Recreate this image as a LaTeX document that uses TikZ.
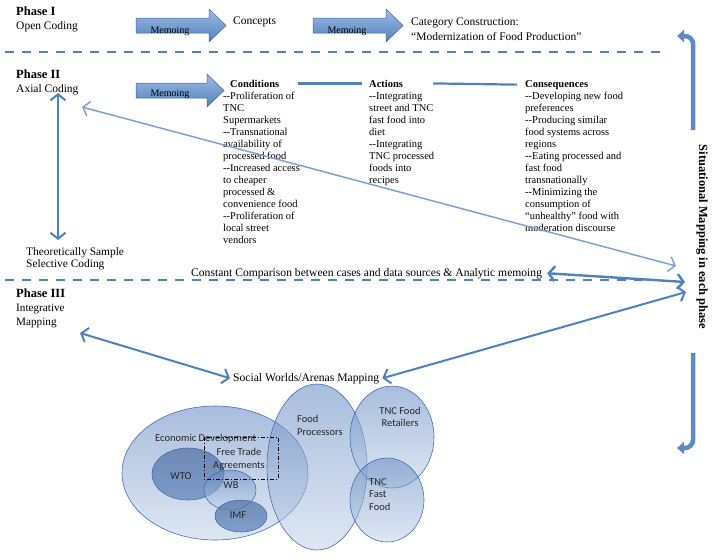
\documentclass[tikz,border=0pt]{standalone}
\usepackage{fontspec}
\setmainfont{Liberation Serif}
\newfontfamily\calfont{Carlito}
\usetikzlibrary{arrows.meta}
\definecolor{mblue}{RGB}{79,129,189}
\definecolor{dblue}{RGB}{60,100,160}
\definecolor{lblue}{RGB}{160,188,228}
\definecolor{pblue}{RGB}{125,162,210}
\definecolor{ebord}{RGB}{70,110,170}
\definecolor{etop}{RGB}{98,135,192}
\definecolor{ebot}{RGB}{195,211,234}
\definecolor{barblue}{RGB}{92,138,198}
\tikzset{
 phaselabel/.style={font=\bfseries\fontsize{12.5}{14}\selectfont, anchor=base west, inner sep=0pt},
 lab/.style={font=\fontsize{11.5}{13}\selectfont, anchor=base west, inner sep=0pt},
 colhead/.style={font=\bfseries\fontsize{10.5}{12}\selectfont, anchor=base west, inner sep=0pt},
 colbody/.style={font=\fontsize{10.5}{12}\selectfont, anchor=north west, inner sep=0pt, align=left},
 memo/.style={font=\fontsize{10}{12}\selectfont, inner sep=0pt},
 blockarrow/.style={draw=dblue, line width=0.5pt, top color=lblue, bottom color=mblue},
 sepline/.style={draw=mblue, line width=2.6pt, dash pattern=on 8.5pt off 8.5pt},
 colline/.style={draw=mblue, line width=2.2pt},
 dbl/.style={draw=mblue, line width=2pt, {Straight Barb[length=6pt,width=15pt]}-{Straight Barb[length=6pt,width=15pt]}},
 dotdbl/.style={draw=pblue, line width=1.5pt, {Straight Barb[length=6pt,width=15pt]}-{Straight Barb[length=6pt,width=15pt]}},
 ellblue/.style={draw=ebord, line width=0.6pt, top color=etop, bottom color=ebot, fill opacity=0.55},
 elldark/.style={draw=ebord, line width=0.6pt, top color=etop!85!black, bottom color=etop, fill opacity=0.75},
 etext/.style={font=\calfont\fontsize{10.5}{12.5}\selectfont, inner sep=0pt, text=black!85},
 bendarrow/.style={draw=barblue, line width=4.5pt, rounded corners=8pt, -{Triangle[length=7pt,width=12pt]}},
}
\begin{document}
\begin{tikzpicture}[x=1pt,y=-1pt]
\useasboundingbox (0,0) rectangle (714,558);

% separators
\coordinate (s1a) at (5,52); \coordinate (s1b) at (662,52);
\coordinate (s2a) at (5,280); \coordinate (s2b) at (662,280);
\draw[sepline] (s1a) -- (s1b);
\draw[sepline] (s2a) -- (s2b);

% Phase I
\node[phaselabel] (p1) at (16,15.5) {Phase I};
\node[lab] (oc) at (16,29.5) {Open Coding};
\path[blockarrow] (136,18) -- (209,18) -- (209,9) -- (226,25.5) -- (209,42) -- (209,33) -- (136,33) -- cycle;
\node[memo] (m1) at (170,31) {Memoing};
\node[lab] (concepts) at (233,24) {Concepts};
\path[blockarrow] (313,18) -- (386,18) -- (386,9) -- (403,25.5) -- (386,42) -- (386,33) -- (313,33) -- cycle;
\node[memo] (m2) at (347,31) {Memoing};
\node[lab] (cat1) at (411,25) {Category Construction:};
\node[lab] (cat2) at (411,40) {“Modernization of Food Production”};

% Phase II
\node[phaselabel] (p2) at (16,78) {Phase II};
\node[lab] (ax) at (16,92) {Axial Coding};
\path[blockarrow] (136,83) -- (207,83) -- (207,74) -- (224,90.5) -- (207,107) -- (207,98) -- (136,98) -- cycle;
\node[memo] (m3) at (170,94) {Memoing};

\node[colhead] (condh) at (230,87) {Conditions};
\node[colbody] (condb) at (223,90.6) {\strut-{}-Proliferation of\\TNC\\Supermarkets\\-{}-Transnational\\availability of\\processed food\\-{}-Increased access\\to cheaper\\processed \&\\convenience food\\-{}-Proliferation of\\local street\\vendors};
\node[colhead] (acth) at (369,87) {Actions};
\node[colbody] (actb) at (369,90.6) {\strut-{}-Integrating\\street and TNC\\fast food into\\diet\\-{}-Integrating\\TNC processed\\foods into\\recipes};
\node[colhead] (consh) at (525,87) {Consequences};
\node[colbody] (consb) at (525,90.6) {\strut-{}-Developing new food\\preferences\\-{}-Producing similar\\food systems across\\regions\\-{}-Eating processed and\\fast food\\transnationally\\-{}-Minimizing the\\consumption of\\“unhealthy” food with\\moderation discourse};
\draw[colline] ([xshift=19pt]condh.east) -- ([xshift=-7pt]acth.west);
\draw[colline] ([xshift=30pt]acth.east) -- ([xshift=-8pt]consh.west);

\node[lab, font=\fontsize{11.4}{13}\selectfont] (ts1) at (26,255) {Theoretically Sample};
\node[lab, font=\fontsize{11.4}{13}\selectfont] (ts2) at (26,267) {Selective Coding};
\coordinate (va1) at (58,93);
\coordinate (va2) at (58,240);
\draw[dbl] (va1) -- (va2);

\node[lab, font=\fontsize{11.6}{13}\selectfont] (cc) at (191,276) {Constant Comparison between cases and data sources \& Analytic memoing};

% right side
\node[font=\bfseries\fontsize{12.5}{14}\selectfont, rotate=-90, inner sep=0pt] (sit) at (702,237) {Situational Mapping in each phase};
\coordinate (b1a) at (693,130); \coordinate (b1c) at (693,36); \coordinate (b1b) at (677,36);
\coordinate (b2a) at (693,353); \coordinate (b2c) at (693,448); \coordinate (b2b) at (677,448);
\draw[bendarrow] (b1a) -- (b1c) -- (b1b);
\draw[bendarrow] (b2a) -- (b2c) -- (b2b);

\coordinate (da1) at (82,107);
\coordinate (da2) at (676,266);
\draw[dotdbl] (da1) -- (da2);
\coordinate (hub1) at (685,282);
\draw[dbl, line width=2.4pt] ([xshift=5pt]cc.east) -- (hub1);

% Phase III
\node[phaselabel] (p3) at (16,297) {Phase III};
\node[lab, font=\fontsize{11.2}{13}\selectfont] (im1) at (16,311) {Integrative};
\node[lab, font=\fontsize{11.2}{13}\selectfont] (im2) at (16,325) {Mapping};
\node[lab, font=\fontsize{11.6}{13}\selectfont] (sw) at (233,381) {Social Worlds/Arenas Mapping};
\coordinate (la1) at (80,333);
\coordinate (hub2) at (686,292);
\draw[dbl] (la1) -- ([xshift=-3pt]sw.west);
\draw[dbl] ([xshift=3pt]sw.east) -- (hub2);

% arenas
\path[ellblue] (215,473) ellipse [x radius=93pt, y radius=67pt];
\path[elldark] (188,474) ellipse [x radius=36pt, y radius=26pt];
\path[ellblue] (230,490) ellipse [x radius=26pt, y radius=20pt];
\path[elldark] (241,516) ellipse [x radius=26pt, y radius=16pt];
\path[ellblue] (317,467) ellipse [x radius=50pt, y radius=83pt];
\path[ellblue] (392,437) ellipse [x radius=42pt, y radius=51pt];
\path[ellblue] (387,500) ellipse [x radius=37pt, y radius=42pt];

\node[etext, anchor=base west] (ed) at (155,441) {Economic Development};
\draw[black, line width=0.7pt, dash pattern=on 4pt off 2pt on 1pt off 2pt] (204,437) rectangle (278,479);
\node[etext, align=center] (fta) at (239,459) {Free Trade\\Agreements};
\node[etext] (wto) at (181,476) {WTO};
\node[etext] (wb) at (231,485) {WB};
\node[etext] (imf) at (238,515) {IMF};
\node[etext, align=left, anchor=north west] (fp) at (297,415) {Food\\Processors};
\node[etext, align=center] (tfr) at (400,417) {TNC Food\\Retailers};
\node[etext, align=left, anchor=north west] (tff) at (369,478) {TNC\\Fast\\Food};
\end{tikzpicture}
\end{document}
